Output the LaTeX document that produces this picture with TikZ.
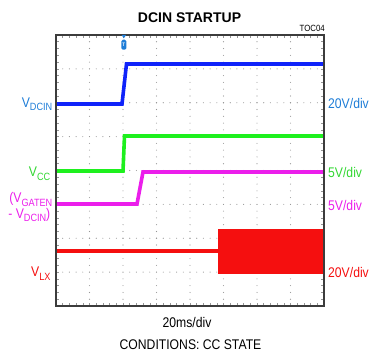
\documentclass[tikz,border=0pt]{standalone}
\usepackage{fontspec}
\setmainfont{Liberation Sans}[FakeStretch=0.87]
\newfontfamily\titlefont{Liberation Sans}
\newcommand{\sbs}[1]{\raisebox{-3.7pt}{\fontsize{10.5}{12}\selectfont #1}}
\definecolor{lblue}{RGB}{30,125,215}
\definecolor{tblue}{RGB}{15,35,250}
\definecolor{lgreen}{RGB}{50,215,50}
\definecolor{tgreen}{RGB}{30,240,30}
\definecolor{tmag}{RGB}{235,30,235}
\definecolor{tred}{RGB}{245,15,15}
\definecolor{framec}{RGB}{60,60,60}
\definecolor{gridc}{RGB}{150,150,150}
\begin{document}
\begin{tikzpicture}[x=1pt,y=-1pt,
  lbl/.style={inner sep=0pt, font=\fontsize{14}{16}\selectfont},
  trace/.style={line width=3.6pt, line join=miter},
  tick/.style={gridc, line width=0.6pt}]
\useasboundingbox (0,0) rectangle (370,353);
% grid dots
\foreach \i in {1,...,7} {
  \foreach \j in {1,...,39} {
    \fill[gridc] ({56+\i*33.5},{35+\j*6.775}) circle (0.55);
    \fill[gridc] ({56+\j*6.7},{35+\i*33.875}) circle (0.55);
  }
}
% edge ticks
\foreach \j in {1,...,39} {
  \draw[tick] (56,{35+\j*6.775}) -- (59,{35+\j*6.775});
  \draw[tick] (324,{35+\j*6.775}) -- (321,{35+\j*6.775});
  \draw[tick] ({56+\j*6.7},35) -- ({56+\j*6.7},38);
  \draw[tick] ({56+\j*6.7},306) -- ({56+\j*6.7},303);
}
% traces
\begin{scope}
\clip (56,35) rectangle (324,306);
\draw[trace, tblue] (56,104) -- (122,104) -- (126.5,64) -- (324,64);
\draw[trace, tgreen] (56,171) -- (123,171) -- (124.5,136) -- (324,136);
\draw[trace, tmag] (56,204) -- (137,204) -- (143,172) -- (324,172);
\draw[trace, tred] (56,251) -- (218,251);
\fill[tred] (218,229) rectangle (324,274);
\end{scope}
% frame
\draw[framec, line width=1.5pt] (56,35) rectangle (324,306);
% trigger marker
\fill[lblue] (121.6,35) -- (126,35) -- (123.8,38.3) -- cycle;
\node[fill=lblue, rounded corners=1.5pt, minimum width=5pt, minimum height=10pt, inner sep=0pt, text=white, font=\fontsize{5}{5}\selectfont\bfseries] (trig) at (123.8,44.7) {T};
% texts
\node[inner sep=0pt, anchor=base, font=\titlefont\bfseries\fontsize{14}{16}\selectfont] (title) at (189.5,23) {DCIN STARTUP};
\node[inner sep=0pt, anchor=base east, font=\fontsize{9}{10}\selectfont] (toc) at (325,31.5) {TOC04};
\node[lbl, lblue, anchor=base east] (vdcin) at (52.5,107) {V\sbs{DCIN}};
\node[lbl, lblue, anchor=base west] (d1) at (328,109) {20V/div};
\node[lbl, lgreen, anchor=base east] (vcc) at (50.5,176.5) {V\sbs{CC}};
\node[lbl, lgreen, anchor=base west] (d2) at (328,177) {5V/div};
\node[lbl, tmag, anchor=base east] (vg1) at (52.5,202.5) {(V\sbs{GATEN}};
\node[lbl, tmag, anchor=base east] (vg2) at (50.5,218) {- V\sbs{DCIN})};
\node[lbl, tmag, anchor=base west] (d3) at (328,210.5) {5V/div};
\node[lbl, tred, anchor=base east] (vlx) at (50.7,276.5) {V\sbs{LX}};
\node[lbl, tred, anchor=base west] (d4) at (328,277) {20V/div};
\node[lbl, anchor=base] (tdiv) at (187,327.5) {20ms/div};
\node[lbl, anchor=base] (cond) at (190.5,349) {CONDITIONS: CC STATE};
\end{tikzpicture}
\end{document}
